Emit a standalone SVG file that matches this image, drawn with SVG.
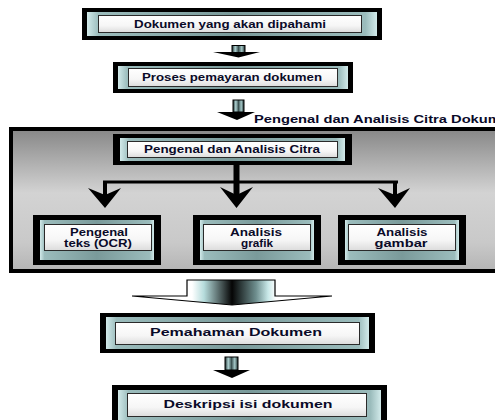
<svg xmlns="http://www.w3.org/2000/svg" width="495" height="420" viewBox="0 0 495 420">
<defs>
  <linearGradient id="panelG" x1="0" y1="0" x2="0" y2="1">
    <stop offset="0" stop-color="#878787"/>
    <stop offset="0.45" stop-color="#d3d3d3"/>
    <stop offset="0.8" stop-color="#c9c9c9"/>
    <stop offset="1" stop-color="#b4b4b4"/>
  </linearGradient>
  <linearGradient id="tealG" x1="0" y1="0" x2="1" y2="0">
    <stop offset="0" stop-color="#d2eaea"/>
    <stop offset="0.04" stop-color="#9bbcbc"/>
    <stop offset="0.5" stop-color="#7a9a9a"/>
    <stop offset="0.96" stop-color="#9bbcbc"/>
    <stop offset="1" stop-color="#d2eaea"/>
  </linearGradient>
  <linearGradient id="whiteG" x1="0" y1="0" x2="0" y2="1">
    <stop offset="0" stop-color="#ffffff"/>
    <stop offset="0.6" stop-color="#f6f6f6"/>
    <stop offset="1" stop-color="#dcdcdc"/>
  </linearGradient>
  <linearGradient id="shaftG" x1="0" y1="0" x2="1" y2="0">
    <stop offset="0" stop-color="#1c2a2a"/>
    <stop offset="0.25" stop-color="#b0d4d4"/>
    <stop offset="0.5" stop-color="#3c5252"/>
    <stop offset="0.75" stop-color="#a4c8c8"/>
    <stop offset="1" stop-color="#1c2a2a"/>
  </linearGradient>
  <linearGradient id="bigG" x1="0" y1="0" x2="1" y2="0">
    <stop offset="0" stop-color="#ffffff"/>
    <stop offset="0.3" stop-color="#ffffff"/>
    <stop offset="0.36" stop-color="#b6dcdc"/>
    <stop offset="0.5" stop-color="#050505"/>
    <stop offset="0.62" stop-color="#6e8e8e"/>
    <stop offset="0.68" stop-color="#c8e8e8"/>
    <stop offset="0.72" stop-color="#ffffff"/>
    <stop offset="1" stop-color="#ffffff"/>
  </linearGradient>
</defs>
<style>
  .outer { fill: #000; }
  .teal { fill: url(#tealG); }
  .white { fill: url(#whiteG); stroke: #2a2a2a; stroke-width: 1; }
  .t { font-family: "Liberation Sans", Arial, sans-serif; font-weight: bold; font-size: 10px; fill: #0a0a28; text-anchor: middle; }
  .lbl { font-family: "Liberation Sans", Arial, sans-serif; font-weight: bold; font-size: 10.5px; fill: #0a0a28; }
  .shaft { fill: url(#shaftG); stroke: #000; stroke-width: 1; }
  .head { fill: #000; }
  .line { stroke: #000; fill: none; }
</style>

<!-- Panel background -->
<g id="panel">
  <rect x="11" y="129" width="492" height="142" fill="url(#panelG)" stroke="#000" stroke-width="4"/>
</g>

<g id="n1">
  <rect class="outer" x="82" y="8" width="300" height="32"/>
  <rect class="teal" x="87" y="12" width="290" height="24"/>
  <rect class="white" x="98.5" y="15.5" width="263" height="17"/>
  <text class="t" x="230" y="28" textLength="192" lengthAdjust="spacingAndGlyphs">Dokumen yang akan dipahami</text>
</g>

<g id="n2">
  <rect class="outer" x="113" y="62" width="240" height="31"/>
  <rect class="teal" x="118" y="66" width="230" height="23"/>
  <rect class="white" x="128.5" y="68.5" width="209" height="18"/>
  <text class="t" x="232" y="81" textLength="180" lengthAdjust="spacingAndGlyphs">Proses pemayaran dokumen</text>
</g>

<g id="label">
  <text class="lbl" x="254" y="123" textLength="264" lengthAdjust="spacingAndGlyphs">Pengenal dan Analisis Citra Dokumen</text>
</g>

<g id="n3">
  <rect class="outer" x="113" y="134" width="239" height="31"/>
  <rect class="teal" x="120" y="138" width="225" height="23"/>
  <rect class="white" x="127.5" y="141.5" width="210" height="16"/>
  <text class="t" x="232" y="153" textLength="176" lengthAdjust="spacingAndGlyphs">Pengenal dan Analisis Citra</text>
</g>

<g id="n4">
  <rect class="outer" x="33" y="215" width="128" height="50"/>
  <rect class="teal" x="40" y="220" width="114" height="40"/>
  <rect class="white" x="44.5" y="224.5" width="107" height="26"/>
  <text class="t" x="99" y="236" textLength="58" lengthAdjust="spacingAndGlyphs">Pengenal</text>
  <text class="t" x="98" y="247" textLength="68" lengthAdjust="spacingAndGlyphs">teks (OCR)</text>
</g>

<g id="n5">
  <rect class="outer" x="193" y="215" width="128" height="50"/>
  <rect class="teal" x="200" y="220" width="114" height="40"/>
  <rect class="white" x="203.5" y="224.5" width="107" height="26"/>
  <text class="t" x="256" y="236" textLength="52" lengthAdjust="spacingAndGlyphs">Analisis</text>
  <text class="t" x="257" y="247" textLength="32" lengthAdjust="spacingAndGlyphs">grafik</text>
</g>

<g id="n6">
  <rect class="outer" x="338" y="215" width="128" height="50"/>
  <rect class="teal" x="345" y="220" width="114" height="40"/>
  <rect class="white" x="348.5" y="224.5" width="107" height="26"/>
  <text class="t" x="402" y="236" textLength="51" lengthAdjust="spacingAndGlyphs">Analisis</text>
  <text class="t" x="401" y="247" textLength="53" lengthAdjust="spacingAndGlyphs">gambar</text>
</g>

<g id="n7">
  <rect class="outer" x="100" y="313" width="275" height="40"/>
  <rect class="teal" x="106" y="317" width="263" height="32"/>
  <rect class="white" x="115.5" y="322.5" width="244" height="22"/>
  <text class="t" x="236" y="336" textLength="172" lengthAdjust="spacingAndGlyphs">Pemahaman Dokumen</text>
</g>

<g id="n8">
  <rect class="outer" x="112" y="385" width="275" height="43"/>
  <rect class="teal" x="118" y="390" width="263" height="34"/>
  <rect class="white" x="127.5" y="393.5" width="239" height="23"/>
  <text class="t" x="248" y="408" textLength="169" lengthAdjust="spacingAndGlyphs">Deskripsi isi dokumen</text>
</g>

<g id="connectors">
  <!-- n1 -> n2 -->
  <rect class="shaft" x="232" y="45.5" width="13" height="7"/>
  <polygon class="head" points="213,52 260,52 238.5,57.5"/>
  <!-- n2 -> panel -->
  <rect class="shaft" x="233" y="100" width="11" height="12"/>
  <polygon class="head" points="217,112 255,112 237,120"/>
  <!-- n3 branches -->
  <line class="line" x1="236.5" y1="165" x2="236.5" y2="196" stroke-width="6"/>
  <line class="line" x1="103" y1="182" x2="398" y2="182" stroke-width="3"/>
  <line class="line" x1="105" y1="181" x2="105" y2="196" stroke-width="4"/>
  <line class="line" x1="395" y1="181" x2="395" y2="196" stroke-width="4"/>
  <polygon class="head" points="88,188 105,195 121,188 105,208"/>
  <polygon class="head" points="220,187 236.5,195 253,187 236.5,208"/>
  <polygon class="head" points="378,188 395,195 410,188 395,208"/>
  <!-- panel -> n7 (big arrow) -->
  <path d="M187,280 L275,280 L275,296 L332,296 L232,305 L132,296 L187,296 Z" fill="url(#bigG)" stroke="#000" stroke-width="1.2"/>
  <!-- n7 -> n8 -->
  <rect class="shaft" x="225" y="357" width="13" height="13"/>
  <polygon class="head" points="213,370 250,370 232,378"/>
</g>
</svg>
